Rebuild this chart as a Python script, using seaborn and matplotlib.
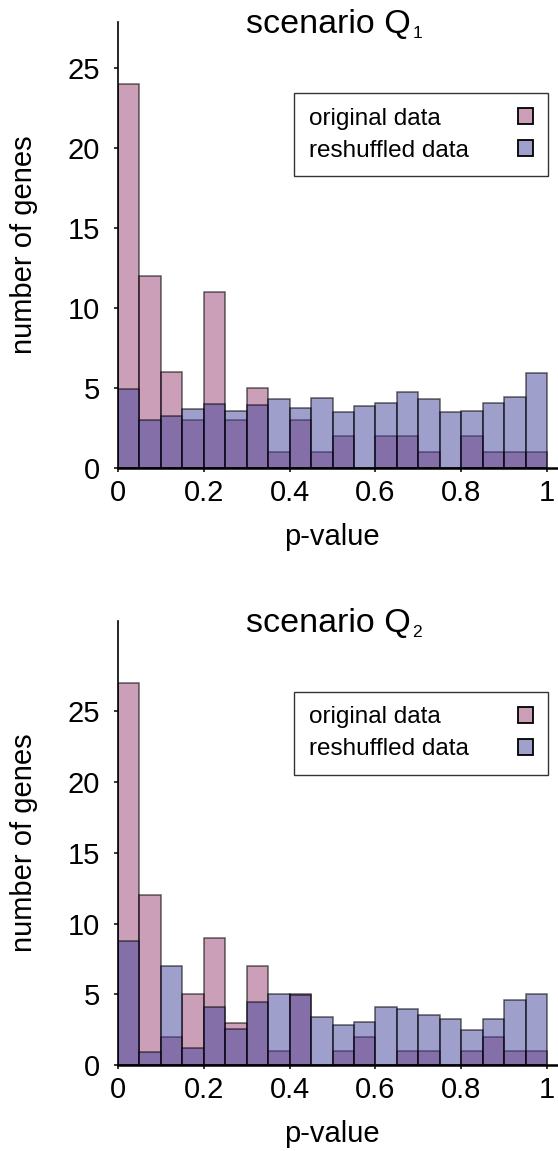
import numpy as np
import pandas as pd
import matplotlib
matplotlib.use("Agg")
import matplotlib.pyplot as plt
from matplotlib.patches import Patch
import seaborn as sns

# p-value histogram bins (20 bins of width 0.05)
n_bins = 20
bin_edges = np.linspace(0.0, 1.0, n_bins + 1)
bin_centers = (bin_edges[:-1] + bin_edges[1:]) / 2

# scenario Q1: gene counts per p-value bin
q1_original = [24, 12, 6, 3, 11, 3, 5, 1, 3, 1, 2, 0, 2, 2, 1, 0, 2, 1, 1, 1]
q1_reshuffled = [4.9, 2.95, 3.25, 3.65, 4.0, 3.55, 3.9, 4.3, 3.75, 4.35,
                 3.45, 3.85, 4.05, 4.75, 4.3, 3.45, 3.55, 4.05, 4.4, 5.9]

# scenario Q2: gene counts per p-value bin
q2_original = [27, 12, 2, 5, 9, 3, 7, 1, 5, 0, 1, 2, 0, 1, 1, 0, 1, 2, 1, 1]
q2_reshuffled = [8.75, 0.95, 7.0, 1.2, 4.1, 2.55, 4.45, 5.0, 4.95, 3.4,
                 2.85, 3.05, 4.1, 3.95, 3.5, 3.25, 2.5, 3.25, 4.6, 5.05]

subscripts = ["1", "2"]
series_labels = ["original data", "reshuffled data"]
x_ticks = [0, 0.2, 0.4, 0.6, 0.8, 1]
x_tick_labels = ["0", "0.2", "0.4", "0.6", "0.8", "1"]
y_ticks = [0, 5, 10, 15, 20, 25]

pink = "#994173"
blue = "#41419b"

sns.set_style("white")
plt.rcParams["font.family"] = ["Liberation Sans", "DejaVu Sans"]
for key in ["text.color", "axes.labelcolor", "xtick.color", "ytick.color"]:
    plt.rcParams[key] = "black"

DPI = 100
fig = plt.figure(figsize=(5.58, 11.51), dpi=DPI)
axes = [
    fig.add_axes([0.2115, 0.5937, 0.788, 0.3875]),
    fig.add_axes([0.2115, 0.0747, 0.788, 0.3860]),
]
panels = [
    (q1_original, q1_reshuffled, 27.9),
    (q2_original, q2_reshuffled, 31.4),
]

edge = (0, 0, 0, 0.6)
legends = []
for ax, (orig, resh, ytop), sub in zip(axes, panels, subscripts):
    df = pd.DataFrame({"p": bin_centers, "orig": orig, "resh": resh})
    sns.histplot(data=df, x="p", weights="orig", bins=n_bins, binrange=(0, 1),
                 color=pink, alpha=0.5, edgecolor=edge, linewidth=1.1, ax=ax)
    sns.histplot(data=df, x="p", weights="resh", bins=n_bins, binrange=(0, 1),
                 color=blue, alpha=0.5, edgecolor=edge, linewidth=1.1, ax=ax)

    ax.set_xlim(0, 1.025)
    ax.set_ylim(0, ytop)
    ax.set_xticks(x_ticks)
    ax.set_xticklabels(x_tick_labels)
    ax.set_yticks(y_ticks)
    ax.tick_params(axis="both", direction="out", length=3, width=1.1,
                   labelsize=21, color="black", bottom=True, left=True)
    ax.tick_params(axis="x", pad=5)
    ax.tick_params(axis="y", pad=10)

    for side in ["top", "right"]:
        ax.spines[side].set_visible(False)
    ax.spines["left"].set_linewidth(1.2)
    ax.spines["bottom"].set_linewidth(1.8)
    ax.spines["left"].set_color("black")
    ax.spines["bottom"].set_color("black")

    ax.set_xlabel("p-value", fontsize=21, va="top")
    ax.xaxis.set_label_coords(0.487, -0.123)
    ax.set_ylabel("number of genes", fontsize=21, va="center")
    ax.yaxis.set_label_coords(-0.213, 0.5)

    # panel title with a small lowered index
    title = ax.text(0.479, 0.975, "scenario Q", transform=ax.transAxes,
                    ha="center", va="baseline", fontsize=24.5)
    ax.annotate(sub, xy=(1, 0), xycoords=title, xytext=(1, -1),
                textcoords="offset points", ha="left", va="bottom",
                fontsize=12.5)

    handles = [
        Patch(facecolor=(0.8, 0.624, 0.725), edgecolor="black", linewidth=1.3),
        Patch(facecolor=(0.627, 0.627, 0.804), edgecolor="black", linewidth=1.3),
    ]
    leg = ax.legend(handles, series_labels, loc="upper right",
                    bbox_to_anchor=(0.978, 0.84), borderaxespad=0,
                    fontsize=17.5, markerfirst=False, fancybox=False,
                    frameon=True, handlelength=0.62, handleheight=0.62,
                    handletextpad=2.05, borderpad=0.6, labelspacing=0.41)
    leg.get_frame().set_edgecolor("black")
    leg.get_frame().set_linewidth(1.0)
    legends.append(leg)

# left-align the legend labels while keeping the swatches in one column
fig.canvas.draw()
renderer = fig.canvas.get_renderer()
for leg in legends:
    widths = [t.get_window_extent(renderer).width for t in leg.get_texts()]
    column = leg._legend_handle_box.get_children()[0]
    column.align = "left"
    for row, w in zip(column.get_children(), widths):
        row.sep = row.sep + (max(widths) - w) * 72.0 / DPI

fig.savefig("out.png", dpi=DPI)
